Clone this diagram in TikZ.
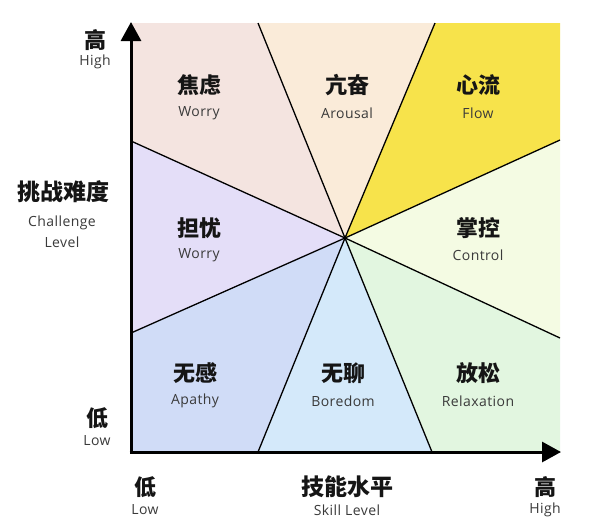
\documentclass[tikz,border=0pt]{standalone}
\usepackage{fontspec}
\setmainfont{Open Sans}[LetterSpace=3]
\newfontfamily\cjk{Noto Sans CJK SC}
\usetikzlibrary{arrows.meta}
\definecolor{cWorryTop}{HTML}{F4E4E0}
\definecolor{cArousal}{HTML}{FAEBD9}
\definecolor{cFlow}{HTML}{F7E34B}
\definecolor{cControl}{HTML}{F4FBE3}
\definecolor{cRelax}{HTML}{E2F6E0}
\definecolor{cBoredom}{HTML}{D4E9FA}
\definecolor{cApathy}{HTML}{D0DCF7}
\definecolor{cWorryMid}{HTML}{E4DEF8}
\definecolor{enText}{HTML}{3A3A3A}
\definecolor{zhText}{HTML}{151515}
\tikzset{
  zh/.style={font=\cjk\bfseries\fontsize{22}{24}\selectfont, text=zhText, inner sep=0pt},
  zhbig/.style={font=\cjk\bfseries\fontsize{23}{25}\selectfont, text=zhText, inner sep=0pt},
  en/.style={font=\fontsize{14}{16}\selectfont, text=enText, inner sep=0pt},
  divline/.style={line width=1.3pt, black},
  axisline/.style={line width=3pt, black, -{Triangle[width=20pt,length=19pt]}}
}
\begin{document}
\begin{tikzpicture}[x=1pt,y=-1pt]
\useasboundingbox (0,0) rectangle (596,520);
\fill[white] (0,0) rectangle (596,520);
\coordinate (C) at (345,238);
\coordinate (TL) at (131,23);
\coordinate (TR) at (560,23);
\coordinate (BR) at (560,452);
\coordinate (BL) at (131,452);
\coordinate (T1) at (258,23);
\coordinate (T2) at (435,23);
\coordinate (L1) at (131,141);
\coordinate (L2) at (131,333);
\coordinate (R1) at (560,140);
\coordinate (R2) at (560,338);
\coordinate (B1) at (258,452);
\coordinate (B2) at (432,452);
% regions
\fill[cWorryTop] (C) -- (L1) -- (TL) -- (T1) -- cycle;
\fill[cArousal] (C) -- (T1) -- (T2) -- cycle;
\fill[cFlow] (C) -- (T2) -- (TR) -- (R1) -- cycle;
\fill[cControl] (C) -- (R1) -- (R2) -- cycle;
\fill[cRelax] (C) -- (R2) -- (BR) -- (B2) -- cycle;
\fill[cBoredom] (C) -- (B2) -- (B1) -- cycle;
\fill[cApathy] (C) -- (B1) -- (BL) -- (L2) -- cycle;
\fill[cWorryMid] (C) -- (L2) -- (L1) -- cycle;
% dividing lines
\foreach \p in {T1,T2,L1,L2,R1,R2,B1,B2}
  \draw[divline] (C) -- (\p);
% axes
\coordinate (O) at (131,453.5);
\coordinate (YT) at (131,22);
\coordinate (O2) at (129.5,452);
\coordinate (XT) at (561,452);
\draw[axisline] (O) -- (YT);
\draw[axisline] (O2) -- (XT);
% region labels
\node[zh] (zWorryTop) at (199,85) {焦虑};
\node[en] (eWorryTop) at (199,113) {Worry};
\node[zh] (zArousal) at (347,85) {亢奋};
\node[en] (eArousal) at (347,113) {Arousal};
\node[zh] (zFlow) at (478,85) {心流};
\node[en] (eFlow) at (478,113) {Flow};
\node[zh] (zWorryMid) at (199,228) {担忧};
\node[en] (eWorryMid) at (199,255) {Worry};
\node[zh] (zControl) at (478,228) {掌控};
\node[en] (eControl) at (478,255) {Control};
\node[zh] (zApathy) at (195,373) {无感};
\node[en] (eApathy) at (195,401) {Apathy};
\node[zh] (zBoredom) at (343,373) {无聊};
\node[en] (eBoredom) at (343,401) {Boredom};
\node[zh] (zRelax) at (478,373) {放松};
\node[en] (eRelax) at (478,401) {Relaxation};
% axis labels
\node[zh] (yHigh) at (95,40) {高};
\node[en] (yHighE) at (95,62) {High};
\node[zhbig] (yTitle) at (63,192) {挑战难度};
\node[en] (yTitleE1) at (62,223) {Challenge};
\node[en] (yTitleE2) at (62,242) {Level};
\node[zh] (yLow) at (97,418) {低};
\node[en] (yLowE) at (97,441) {Low};
\node[zh] (xLow) at (145,487) {低};
\node[en] (xLowE) at (145,510) {Low};
\node[zhbig] (xTitle) at (347,487) {技能水平};
\node[en] (xTitleE) at (347,510) {Skill Level};
\node[zh] (xHigh) at (545,487) {高};
\node[en] (xHighE) at (545,510) {High};
\end{tikzpicture}
\end{document}
